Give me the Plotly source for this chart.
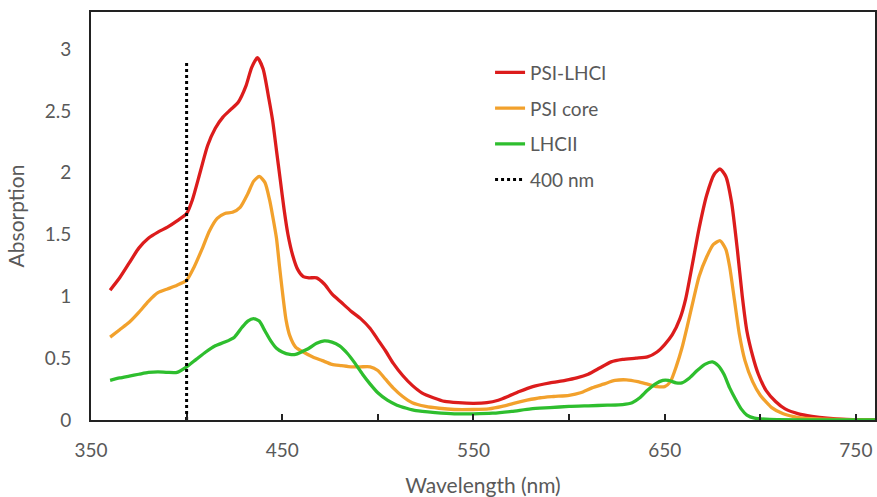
import plotly.graph_objects as go

# ---- data ----
wl_psi_lhci = [360, 365, 370, 375, 380, 385, 390, 395, 400, 403, 407, 411, 415, 419, 423, 427, 431, 434, 437,
               440, 443, 445, 447, 449, 451, 453, 455.5, 458, 461, 464, 468, 472, 476, 481, 486, 491, 496, 500,
               504, 508, 513, 518, 523, 529, 535, 542, 550, 557, 563, 568, 574, 581, 590, 598, 604, 610, 616,
               622, 628, 635, 641, 646, 650, 654, 658, 661, 664.5, 668, 672, 676, 679, 682, 685, 688, 690.6,
               693, 696, 699, 703, 708, 713, 720, 727, 735, 745, 760]
abs_psi_lhci = [1.05, 1.15, 1.27, 1.39, 1.47, 1.52, 1.56, 1.61, 1.67, 1.78, 2.00, 2.22, 2.36, 2.45, 2.51, 2.57, 2.70,
                2.85, 2.93, 2.84, 2.60, 2.42, 2.18, 1.94, 1.70, 1.50, 1.33, 1.22, 1.16, 1.15, 1.15, 1.10, 1.02,
                0.95, 0.88, 0.82, 0.74, 0.65, 0.56, 0.46, 0.36, 0.28, 0.22, 0.18, 0.15, 0.14, 0.135, 0.14, 0.16,
                0.19, 0.23, 0.27, 0.30, 0.32, 0.34, 0.37, 0.42, 0.47, 0.49, 0.50, 0.51, 0.55, 0.61, 0.69, 0.82,
                0.98, 1.26, 1.55, 1.82, 1.99, 2.03, 1.97, 1.76, 1.38, 1.00, 0.72, 0.52, 0.37, 0.24, 0.15, 0.09,
                0.05, 0.03, 0.015, 0.005, 0.0]

wl_psi_core = [360, 365, 370, 375, 380, 385, 390, 395, 400, 404, 408, 412, 416, 420, 424, 428, 432, 435, 438,
               441, 443.4, 445, 447, 448.6, 450, 452, 454, 457, 461, 466, 471, 476, 481, 486, 491, 496, 500,
               504, 508, 513, 518, 525, 532, 540, 550, 558, 565, 571, 578, 585, 592, 600, 606, 612, 618, 624,
               630, 636, 641, 646, 650, 653, 656, 659, 662, 665, 668, 672, 675.5, 679, 682, 684, 686.5, 689,
               692, 696, 700, 706, 712, 720, 730, 745, 760]
abs_psi_core = [0.67, 0.73, 0.79, 0.87, 0.96, 1.03, 1.06, 1.09, 1.13, 1.24, 1.38, 1.53, 1.63, 1.67, 1.68, 1.72,
                1.83, 1.93, 1.97, 1.92, 1.78, 1.65, 1.47, 1.24, 1.05, 0.81, 0.68, 0.59, 0.55, 0.51, 0.48, 0.45,
                0.44, 0.43, 0.43, 0.43, 0.40, 0.33, 0.26, 0.19, 0.14, 0.11, 0.095, 0.085, 0.085, 0.09, 0.11,
                0.135, 0.16, 0.18, 0.19, 0.20, 0.22, 0.26, 0.29, 0.32, 0.325, 0.31, 0.29, 0.27, 0.27, 0.31,
                0.43, 0.58, 0.77, 0.97, 1.16, 1.32, 1.42, 1.45, 1.38, 1.24, 0.97, 0.70, 0.48, 0.31, 0.20, 0.10,
                0.05, 0.02, 0.008, 0.002, 0.0]

wl_lhcii = [360, 365, 370, 375, 380, 385, 390, 395, 400, 405, 410, 415, 420, 425, 429, 432, 435, 438, 441, 444,
            447, 450, 454, 457, 460, 464, 468, 472, 476, 480, 484, 488, 492, 496, 500, 505, 510, 515, 520, 530,
            540, 550, 560, 570, 580, 590, 600, 610, 620, 628, 633, 637, 641, 645, 649, 652, 656, 659, 663, 667,
            671, 675, 678, 681, 684, 687, 690, 693, 697, 705, 760]
abs_lhcii = [0.32, 0.34, 0.355, 0.37, 0.385, 0.39, 0.385, 0.385, 0.43, 0.49, 0.55, 0.60, 0.63, 0.67, 0.75, 0.80,
             0.82, 0.80, 0.72, 0.64, 0.58, 0.55, 0.53, 0.53, 0.55, 0.58, 0.62, 0.64, 0.63, 0.60, 0.54, 0.46,
             0.37, 0.29, 0.22, 0.16, 0.12, 0.095, 0.075, 0.06, 0.05, 0.05, 0.055, 0.07, 0.09, 0.10, 0.11, 0.115,
             0.12, 0.125, 0.14, 0.18, 0.24, 0.29, 0.32, 0.32, 0.30, 0.30, 0.34, 0.40, 0.45, 0.47, 0.44, 0.37,
             0.26, 0.17, 0.09, 0.04, 0.015, 0.005, 0.0]

marker_wl = [400, 400]
marker_abs = [0, 2.9]

series_names = ["PSI-LHCI", "PSI core", "LHCII", "400 nm"]
x_tickvals = [350, 450, 550, 650, 750]
y_tickvals = [0, 0.5, 1, 1.5, 2, 2.5, 3]

# ---- figure ----
FONT = "Lato, 'Open Sans', sans-serif"
GRAY = "#595959"
LW = 3.3

fig = go.Figure()
fig.add_trace(go.Scatter(x=wl_psi_lhci, y=abs_psi_lhci, mode="lines", name=series_names[0],
                         legendgroup="a", line=dict(color="#DC1C1C", width=LW, shape="spline", smoothing=0.6)))
fig.add_trace(go.Scatter(x=wl_psi_core, y=abs_psi_core, mode="lines", name=series_names[1],
                         legendgroup="b", line=dict(color="#F2A12C", width=LW, shape="spline", smoothing=0.6)))
fig.add_trace(go.Scatter(x=wl_lhcii, y=abs_lhcii, mode="lines", name=series_names[2],
                         legendgroup="c", line=dict(color="#2EBE2E", width=LW, shape="spline", smoothing=0.6)))
fig.add_trace(go.Scatter(x=marker_wl, y=marker_abs, mode="lines", name=series_names[3],
                         legendgroup="d", line=dict(color="black", width=3, dash="dot")))

fig.update_layout(
    width=877, height=497,
    margin=dict(l=91, r=2, t=12, b=77),
    paper_bgcolor="white", plot_bgcolor="white",
    font=dict(family=FONT, size=19, color=GRAY),
    showlegend=True,
    legend=dict(x=0.509, y=0.898, xanchor="left", yanchor="top", bgcolor="rgba(0,0,0,0)",
                font=dict(family=FONT, size=19, color=GRAY), tracegroupgap=8,
                itemwidth=30),
)
fig.update_xaxes(
    range=[350, 760], tickvals=x_tickvals, ticks="inside", ticklen=6, tickwidth=1.5, tickcolor="#222",
    minor=dict(dtick=50, tick0=350, ticks="inside", ticklen=6, tickwidth=1.5, tickcolor="#222"),
    showline=True, linecolor="#222", linewidth=2, mirror=True, showgrid=False, zeroline=False,
    ticklabelstandoff=12, automargin=False,
    title=dict(text="Wavelength (nm)", font=dict(family=FONT, size=21, color=GRAY), standoff=19),
)
fig.update_yaxes(
    range=[0, 3.3], tickvals=y_tickvals, ticks="", showline=True, linecolor="#222", linewidth=2,
    mirror=True, showgrid=False, zeroline=False, ticklabelstandoff=14, automargin=False,
    title=dict(text="Absorption", font=dict(family=FONT, size=21, color=GRAY), standoff=14),
)

fig.write_html("out.html", config={"displayModeBar": False},
               post_script="document.body.style.margin='0';")
